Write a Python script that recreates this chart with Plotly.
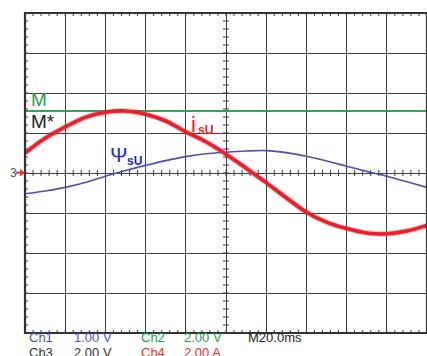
import plotly.graph_objects as go

# Screen divisions of the scope graticule (10 x 8)
div_x = [-5, -4.5, -4, -3.5, -3, -2.5, -2, -1.5, -1, -0.5, 0,
         0.5, 1, 1.5, 2, 2.5, 3, 3.5, 4, 4.5, 5]

# Channel traces, in screen divisions
i_su = [0.50, 0.87, 1.15, 1.39, 1.52, 1.55, 1.47, 1.30, 1.03, 0.78, 0.47,
        0.12, -0.24, -0.62, -0.98, -1.23, -1.39, -1.50, -1.52, -1.45, -1.31]
psi_su = [-0.52, -0.45, -0.36, -0.24, -0.08, 0.06, 0.19, 0.31, 0.41, 0.48, 0.52,
          0.55, 0.56, 0.51, 0.42, 0.30, 0.17, 0.04, -0.08, -0.22, -0.36]
m_torque = [1.55] * len(div_x)

# Channel readout text
ch_rows = [
    [("Ch1", "#5252b0", 28), ("1.00 V", "#5252b0", 73), ("Ch2", "#22a052", 140),
     ("2.00 V", "#22a052", 183), ("M20.0ms", "#222222", 247)],
    [("Ch3", "#333333", 28), ("2.00 V", "#333333", 73), ("Ch4", "#e83030", 140),
     ("2.00 A", "#e83030", 183)],
]

W, H = 427, 356
ML, MR, MT, MB = 25, 0, 13, 23
PW, PH = W - ML - MR, H - MT - MB


def px_to_paper(xp, yp):
    return (xp - ML) / PW, (H - MB - yp) / PH


fig = go.Figure()

# Graticule minor ticks: centre cross and frame edges, 5 per division
tx, ty = [], []
k = 0.075
for i in range(-25, 26):
    v = i / 5
    tx += [v, v, None]; ty += [-k, k, None]
    tx += [v, v, None]; ty += [4, 4 - k, None]
    tx += [v, v, None]; ty += [-4, -4 + k, None]
for i in range(-20, 21):
    v = i / 5
    tx += [-k, k, None]; ty += [v, v, None]
    tx += [-5, -5 + k, None]; ty += [v, v, None]
fig.add_trace(go.Scatter(x=tx, y=ty, mode="lines", line=dict(color="#3a3a3a", width=1),
                         hoverinfo="skip", showlegend=False))

fig.add_trace(go.Scatter(x=div_x, y=m_torque, mode="lines",
                         line=dict(color="#35a060", width=2.2), showlegend=False))
fig.add_trace(go.Scatter(x=div_x, y=psi_su, mode="lines", line_shape="spline",
                         line=dict(color="#5050a8", width=1.6), showlegend=False))
fig.add_trace(go.Scatter(x=div_x, y=i_su, mode="lines", line_shape="spline",
                         line=dict(color="rgba(235,40,50,0.35)", width=5.5), showlegend=False))
fig.add_trace(go.Scatter(x=div_x, y=i_su, mode="lines", line_shape="spline",
                         line=dict(color="#e8202c", width=3.6), showlegend=False))

ann = []


def label(text, xp, yp, color, size, xanchor="left", bold=False, yanchor="middle"):
    xx, yy = px_to_paper(xp, yp)
    ann.append(dict(text=f"<b>{text}</b>" if bold else text, x=xx, y=yy,
                    xref="paper", yref="paper", xanchor=xanchor, yanchor=yanchor,
                    showarrow=False, borderpad=0,
                    font=dict(family="Liberation Sans, Arial", size=size, color=color)))


label("M", 30, 99, "#2a9a50", 19)
label("M*", 30, 121, "#222222", 19)
label("i", 190, 124, "#e8202c", 22)
label("sU", 197, 130, "#e8202c", 12, bold=True)
label("Ψ", 109, 154, "#2424dc", 21)
label("sU", 126, 161, "#2424dc", 12, bold=True)

# Readout rows sit tight under the graticule
for row, yp, anchor in zip(ch_rows, [345.5, 344], ["bottom", "top"]):
    for text, color, xp in row:
        label(text, xp, yp, color, 13, yanchor=anchor)

# Ground-level marker on the left edge
label("3", 9, 173, "#3d5a48", 12)
fig.add_shape(type="line", xref="paper", yref="paper",
              x0=px_to_paper(16, 0)[0], x1=px_to_paper(22, 0)[0],
              y0=px_to_paper(0, 172.7)[1], y1=px_to_paper(0, 172.7)[1],
              line=dict(color="#e83030", width=2))
ax0, ay0 = px_to_paper(20, 169)
ax1, ay1 = px_to_paper(25, 172.7)
ax2, ay2 = px_to_paper(20, 176.4)
fig.add_shape(type="path", xref="paper", yref="paper",
              path=f"M {ax0} {ay0} L {ax1} {ay1} L {ax2} {ay2} Z",
              fillcolor="#e83030", line=dict(color="#e83030", width=0))

# Frame
fig.add_shape(type="rect", xref="paper", yref="paper", x0=0, y0=0, x1=1, y1=1,
              line=dict(color="#333333", width=2.2))

fig.update_layout(
    width=W, height=H, margin=dict(l=ML, r=MR, t=MT, b=MB),
    paper_bgcolor="white", plot_bgcolor="white", annotations=ann,
    xaxis=dict(range=[-5, 5], dtick=1, showgrid=True, gridcolor="#404040", gridwidth=1.2,
               zeroline=False, showticklabels=False, ticks="", fixedrange=True),
    yaxis=dict(range=[-4, 4], dtick=1, showgrid=True, gridcolor="#404040", gridwidth=1.2,
               zeroline=False, showticklabels=False, ticks="", fixedrange=True),
)

fig.write_html("out.html", config={"displayModeBar": False})
